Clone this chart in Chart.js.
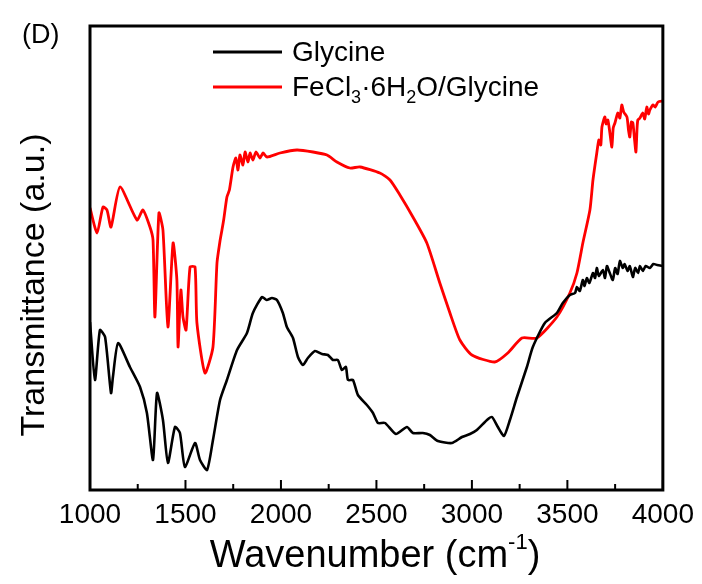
<!DOCTYPE html>
<html>
<head>
<meta charset="utf-8">
<script src="https://cdn.jsdelivr.net/npm/chart.js@4.4.1/dist/chart.umd.min.js"></script>
<style>
  html,body{margin:0;padding:0;background:#fff;}
  #c{display:block;}
</style>
</head>
<body>
<canvas id="c" width="702" height="584"></canvas>
<script>
// FTIR spectra, values (transmittance in arbitrary units)
const xTicks = [1000,1500,2000,2500,3000,3500,4000];
const minorTicks = [1250,1750,2250,2750,3250,3750];

const glyWn = [1000,1026,1052,1079,1110,1120,1147,1209,1262,1298,1330,1351,1382,1408,1445,1471,1497,1550,1576,1613,1644,1681,1717,1770,1822,1853,1901,1925,1953,1979,2010,2031,2063,2089,2115,2141,2178,2215,2246,2272,2298,2319,2340,2351,2377,2403,2450,2482,2508,2545,2602,2660,2691,2743,2780,2822,2895,2948,2990,3026,3079,3105,3136,3168,3199,3236,3288,3319,3382,3445,3476,3513,3540,3550,3565,3581,3590,3602,3615,3634,3645,3654,3665,3686,3697,3707,3720,3738,3750,3763,3775,3790,3800,3815,3827,3843,3855,3870,3880,3895,3910,3932,3950,3970,4000];
const glyT  = [168,110,160,153,97,113,147,123,103,77,30,97,70,27,63,57,23,47,30,20,50,90,110,140,157,177,193,190,192,190,177,163,152,133,125,132,139,136,135,130,130,120,123,110,110,95,85,77,67,67,56,63,57,57,55,49,47,53,56,60,70,73,63,54,70,93,123,143,167,177,187,195,197,203,199,210,204,212,207,217,212,222,214,220,212,224,218,210,222,216,229,222,226,219,224,213,222,217,224,219,224,222,226,225,224];

const feWn = [1000,1037,1068,1089,1110,1157,1246,1277,1314,1330,1340,1361,1382,1408,1435,1455,1461,1476,1487,1503,1524,1550,1560,1602,1644,1665,1680,1691,1700,1717,1730,1749,1764,1775,1785,1801,1812,1827,1838,1853,1869,1890,1906,1927,1995,2084,2168,2241,2293,2361,2414,2518,2571,2623,2691,2764,2832,2885,2937,3000,3120,3188,3262,3340,3445,3513,3550,3581,3618,3634,3654,3665,3675,3681,3696,3703,3712,3722,3733,3740,3749,3764,3775,3785,3795,3812,3820,3827,3835,3843,3851,3859,3865,3869,3880,3895,3905,3916,3925,3932,3948,3960,3975,4000];
const feT  = [282,257,283,280,263,303,270,280,263,250,173,277,260,163,247,210,143,200,173,160,223,223,167,117,143,227,248,260,270,293,300,323,332,320,335,325,338,328,337,330,338,332,337,333,337,340,338,335,328,322,323,317,310,295,273,247,207,177,150,135,128,137,152,152,173,197,217,247,280,310,337,350,345,363,373,366,370,358,343,362,367,377,372,385,378,373,360,353,368,367,352,338,362,370,372,377,371,383,376,380,385,383,388,389];

const seriesNames = ['Glycine','FeCl3·6H2O/Glycine'];
const seriesColors = ['#000000','#ff0000'];

const FONT = '"Liberation Sans", Arial, sans-serif';

function pts(xs, ys){ return xs.map((x,i)=>({x:x, y:ys[i]})); }

// frame, inward ticks, titles, legend
const decor = {
  id:'decor',
  afterDraw(chart){
    const ctx = chart.ctx, a = chart.chartArea, xs = chart.scales.x;
    ctx.save();
    ctx.strokeStyle = '#000';
    ctx.lineWidth = 3;
    ctx.strokeRect(a.left, a.top, a.right-a.left, a.bottom-a.top);
    ctx.lineWidth = 2;
    ctx.beginPath();
    xTicks.forEach(v=>{ const p = xs.getPixelForValue(v); ctx.moveTo(p, a.bottom); ctx.lineTo(p, a.bottom-10); });
    minorTicks.forEach(v=>{ const p = xs.getPixelForValue(v); ctx.moveTo(p, a.bottom); ctx.lineTo(p, a.bottom-6); });
    ctx.stroke();

    ctx.fillStyle = '#000';
    ctx.textBaseline = 'alphabetic';
    // panel letter
    ctx.font = '27px ' + FONT;
    ctx.textAlign = 'left';
    ctx.fillText('(D)', 22, 43);

    // y title
    ctx.save();
    ctx.translate(44, 285);
    ctx.rotate(-Math.PI/2);
    ctx.font = '34px ' + FONT;
    ctx.textAlign = 'center';
    ctx.fillText('Transmittance (a.u.)', 0, 0);
    ctx.restore();

    // x title with superscript
    ctx.font = '38px ' + FONT;
    const t1 = 'Wavenumber (cm', t2 = '-1', t3 = ')';
    const w1 = ctx.measureText(t1).width, w3 = ctx.measureText(t3).width;
    ctx.font = '22px ' + FONT;
    const w2 = ctx.measureText(t2).width;
    let sx = 375 - (w1+w2+w3)/2;
    const by = 567;
    ctx.textAlign = 'left';
    ctx.font = '38px ' + FONT; ctx.fillText(t1, sx, by); sx += w1;
    ctx.font = '22px ' + FONT; ctx.fillText(t2, sx, by-18); sx += w2;
    ctx.font = '38px ' + FONT; ctx.fillText(t3, sx, by);

    // legend
    const rows = [52, 87];
    rows.forEach((y,i)=>{
      ctx.strokeStyle = seriesColors[i];
      ctx.lineWidth = 3;
      ctx.beginPath(); ctx.moveTo(213, y); ctx.lineTo(282, y); ctx.stroke();
    });
    ctx.font = '28px ' + FONT;
    ctx.fillText(seriesNames[0], 292, 61);
    // FeCl3·6H2O/Glycine with subscripts
    let lx = 292; const ly = 96;
    const parts = [['FeCl',0],['3',1],['·6H',0],['2',1],['O/Glycine',0]];
    parts.forEach(([s,sub])=>{
      ctx.font = (sub? '18px ' : '28px ') + FONT;
      ctx.fillText(s, lx, sub? ly+7 : ly);
      lx += ctx.measureText(s).width;
    });
    ctx.restore();
  }
};

new Chart(document.getElementById('c'), {
  type:'line',
  data:{
    datasets:[
      { label:seriesNames[0], data:pts(glyWn, glyT), borderColor:seriesColors[0], borderWidth:2.6, pointRadius:0, tension:0.2, fill:false },
      { label:seriesNames[1], data:pts(feWn, feT), borderColor:seriesColors[1], borderWidth:2.8, pointRadius:0, tension:0.2, fill:false }
    ]
  },
  options:{
    responsive:false,
    animation:false,
    devicePixelRatio:1,
    layout:{ padding:{ left:90, right:39, top:26, bottom:0 } },
    plugins:{ legend:{display:false}, tooltip:{enabled:false} },
    scales:{
      x:{
        type:'linear', min:1000, max:4000,
        grid:{ display:false, drawTicks:false },
        border:{ display:false },
        afterFit(scale){ scale.height = 94; },
        afterBuildTicks(scale){ scale.ticks = xTicks.map(v=>({value:v})); },
        ticks:{ color:'#000', font:{ family:FONT, size:28 }, padding:8, maxRotation:0, autoSkip:false,
                callback:(v)=>String(v) }
      },
      y:{ display:false, min:0, max:464 }
    }
  },
  plugins:[decor]
});
</script>
</body>
</html>
